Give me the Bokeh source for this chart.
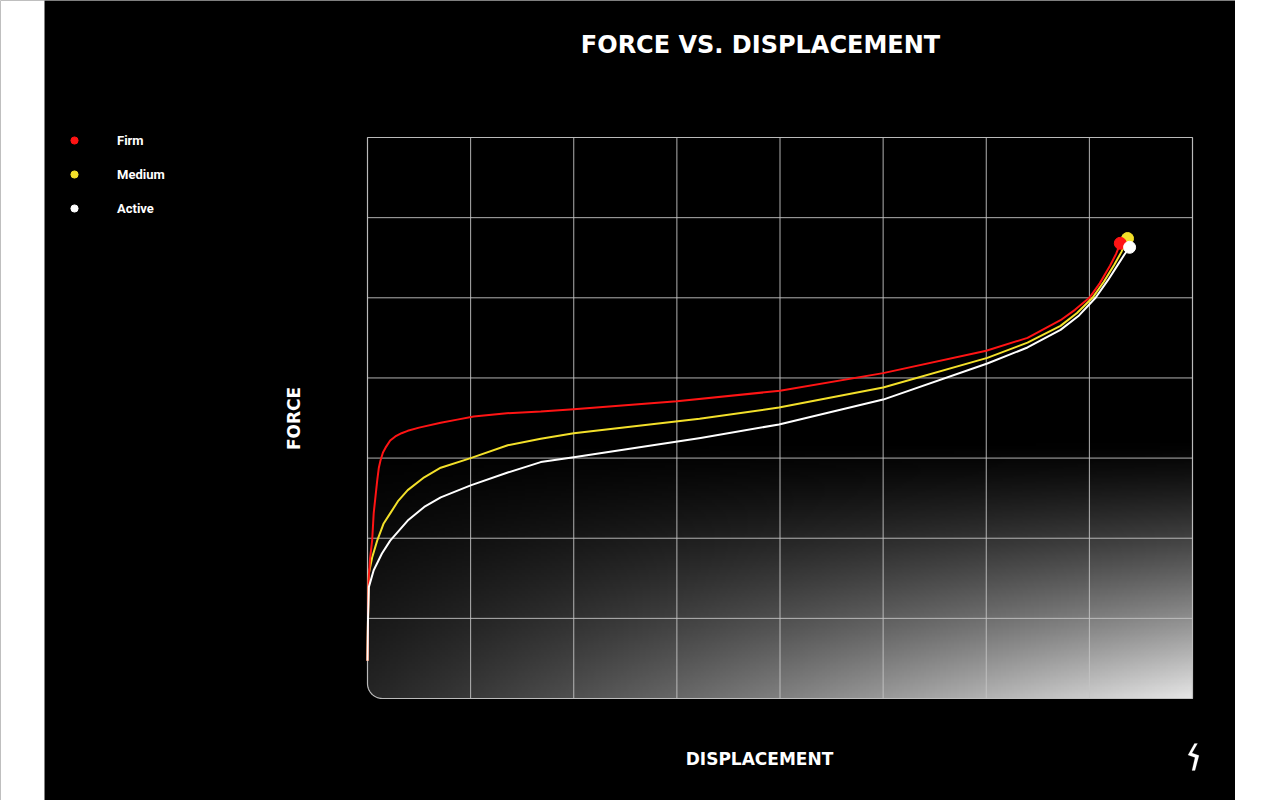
import numpy as np
from bokeh.plotting import figure
from bokeh.models import Range1d, Legend, LegendItem, Label, PolyAnnotation
from bokeh.embed import file_html
from bokeh.resources import INLINE

# ---------------- data ----------------
title_text = "FORCE VS. DISPLACEMENT"
x_label = "DISPLACEMENT"
y_label = "FORCE"
series_names = ["Firm", "Medium", "Active"]
series_colors = ["#ff1414", "#f3e02a", "#ffffff"]

firm_x = [0.0, 0.005, 0.01, 0.025, 0.045, 0.06, 0.094, 0.11, 0.126, 0.15, 0.175, 0.22, 0.27, 0.33,
          0.39, 0.50, 0.71, 0.87, 1.03, 1.35, 1.68, 2.0, 3.0, 4.0, 5.0, 6.0, 6.40, 6.72, 6.86,
          7.0, 7.10, 7.20, 7.26, 7.30]
firm_y = [0.47, 1.0, 1.47, 1.75, 1.97, 2.31, 2.72, 2.88, 2.97, 3.07, 3.13, 3.22, 3.27, 3.31,
          3.34, 3.38, 3.44, 3.48, 3.52, 3.56, 3.58, 3.61, 3.71, 3.84, 4.06, 4.34, 4.50, 4.72, 4.85,
          5.0, 5.18, 5.40, 5.55, 5.68]

medium_x = [0.0, 0.005, 0.013, 0.045, 0.094, 0.155, 0.22, 0.30, 0.39, 0.55, 0.71, 1.0, 1.36,
            1.68, 2.0, 3.22, 3.99, 5.0, 6.01, 6.40, 6.72, 6.88, 7.03, 7.14, 7.24, 7.31, 7.37]
medium_y = [0.47, 1.0, 1.56, 1.76, 1.97, 2.18, 2.31, 2.47, 2.60, 2.76, 2.88, 3.0, 3.16,
            3.24, 3.31, 3.49, 3.63, 3.88, 4.25, 4.44, 4.65, 4.81, 5.0, 5.20, 5.41, 5.57, 5.74]

active_x = [0.0, 0.005, 0.013, 0.06, 0.14, 0.22, 0.39, 0.55, 0.71, 1.0, 1.36, 1.68, 2.0, 3.23,
            3.99, 5.0, 6.01, 6.40, 6.72, 6.90, 7.06, 7.18, 7.28, 7.34, 7.39]
active_y = [0.47, 1.0, 1.39, 1.60, 1.81, 1.97, 2.22, 2.39, 2.51, 2.66, 2.82, 2.95, 3.01, 3.25,
            3.42, 3.73, 4.18, 4.38, 4.60, 4.78, 5.0, 5.22, 5.42, 5.54, 5.63]

x_ticks = [0, 1, 2, 3, 4, 5, 6, 7, 8]
y_ticks = [0, 1, 2, 3, 4, 5, 6, 7]

# ---------------- layout ----------------
W, H = 1235, 800
left_white = 44       # white strip at the left of the page
sx = 103.125          # px per x unit
sy = 80.14            # px per y unit
origin_x = 367        # px of x=0
origin_y = 698        # px (from top) of y=0
x_max = x_ticks[-1]
y_max = y_ticks[-1]
x0r = -origin_x / sx
x1r = (W - origin_x) / sx
y0r = -(H - origin_y) / sy
y1r = origin_y / sy

p = figure(width=W, height=H, output_backend="svg", toolbar_location=None,
           x_range=Range1d(x0r, x1r), y_range=Range1d(y0r, y1r),
           x_axis_location=None, y_axis_location=None,
           min_border=0, min_border_left=0, min_border_right=0,
           min_border_top=0, min_border_bottom=0,
           background_fill_color="black", border_fill_color="black",
           outline_line_color=None)
p.title.visible = False
p.xgrid.visible = False
p.ygrid.visible = False

# white page strip on the left
p.quad(left=[x0r - 1], right=[x0r + left_white / sx], bottom=[y0r - 1], top=[y1r + 1],
       fill_color="white", line_color=None, level="image")

# gradient background of the plot area
nx, ny = 300, 240
u = np.linspace(0, 1, nx)[None, :]
yy = np.linspace(0, 1, ny)[:, None]
vdown = 1 - yy
t = np.clip((vdown - 0.54) / 0.46, 0, 1)
b = (t ** 1.3) * (0.15 + 0.75 * u ** 1.1)
img = np.empty((ny, nx), dtype=np.uint32)
view = img.view(dtype=np.uint8).reshape((ny, nx, 4))
g = np.clip(b * 255, 0, 255).astype(np.uint8)
view[:, :, 0] = g
view[:, :, 1] = g
view[:, :, 2] = g
view[:, :, 3] = 255
p.image_rgba(image=[img], x=0, y=0, dw=x_max, dh=y_max, level="image")

grid_color = "#c4c4c4"
inner_x = x_ticks[1:-1]
inner_y = y_ticks[1:-1]
p.segment(x0=inner_x, y0=[0] * len(inner_x), x1=inner_x, y1=[y_max] * len(inner_x),
          line_color=grid_color, line_width=1, line_alpha=0.9)
p.segment(x0=[0] * len(inner_y), y0=inner_y, x1=[x_max] * len(inner_y), y1=inner_y,
          line_color=grid_color, line_width=1, line_alpha=0.9)

# rounded bottom-left corner + border
rx = 15 / sx
ry = 15 / sy
ang = np.linspace(np.pi, 1.5 * np.pi, 24)
arc_x = rx + rx * np.cos(ang)
arc_y = ry + ry * np.sin(ang)
ex, ey = 3 / sx, 3 / sy
p.patch(list(np.r_[-ex, arc_x, rx, -ex]), list(np.r_[ry, arc_y, -ey, -ey]),
        fill_color="black", line_color=None)
bx = list(np.r_[arc_x, x_max, x_max, 0, 0])
by = list(np.r_[arc_y, 0, y_max, y_max, ry])
p.line(bx, by, line_color=grid_color, line_width=1.2, line_alpha=0.95)

# curves
series = [(medium_x, medium_y, 1), (firm_x, firm_y, 0), (active_x, active_y, 2)]
dots = {}
for xs, ys, i in series:
    p.line(xs, ys, line_color=series_colors[i], line_width=2, line_join="round")
for xs, ys, i in series:
    dots[i] = p.scatter([xs[-1]], [ys[-1]], size=12, color=series_colors[i])

# legend (location y = bottom of legend box, measured from the bottom)
legend = Legend(items=[LegendItem(label=series_names[i], renderers=[dots[i]]) for i in range(3)],
                location=(65, 583), padding=0, margin=0, glyph_width=18, glyph_height=18,
                label_height=18, spacing=16, label_standoff=34,
                border_line_color=None, background_fill_alpha=0,
                label_text_color="white", label_text_font="Roboto",
                label_text_font_style="bold", label_text_font_size="13px")
p.add_layout(legend)

p.add_layout(Label(x=760, y=756, x_units="screen", y_units="screen", text=title_text,
                   text_align="center", text_baseline="middle", text_color="white",
                   text_font="DejaVu Sans", text_font_style="bold", text_font_size="24px"))
p.add_layout(Label(x=759, y=42, x_units="screen", y_units="screen", text=x_label,
                   text_align="center", text_baseline="middle", text_color="white",
                   text_font="DejaVu Sans", text_font_style="bold", text_font_size="17px"))
p.add_layout(Label(x=293, y=382, x_units="screen", y_units="screen", text=y_label, angle=np.pi / 2,
                   text_align="center", text_baseline="middle", text_color="white",
                   text_font="DejaVu Sans", text_font_style="bold", text_font_size="17px"))

# logo mark
lx = [1194, 1187.5, 1194.5, 1191.5, 1194.5, 1198.5, 1191.5, 1197]
ly = [743, 754.5, 757, 770, 770, 755, 752.5, 743]
p.add_layout(PolyAnnotation(xs=lx, ys=[800 - v for v in ly],
                            xs_units="screen", ys_units="screen",
                            fill_color="white", fill_alpha=1, line_color="white", line_width=0.5))

open("out.html", "w").write(file_html(p, INLINE))
